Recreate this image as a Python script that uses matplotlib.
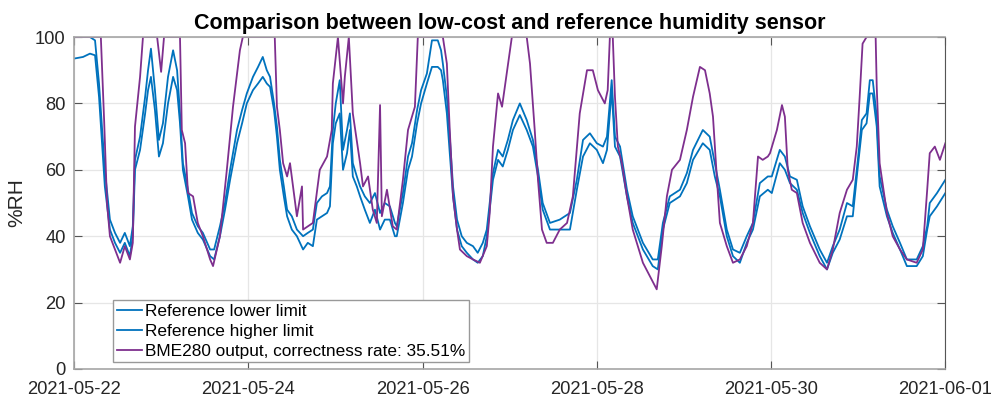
import numpy as np
import pandas as pd
import matplotlib
matplotlib.use("Agg")
import matplotlib.pyplot as plt
import matplotlib.dates as mdates

plt.rcParams['font.family'] = ['Liberation Sans', 'DejaVu Sans']

start = pd.Timestamp('2021-05-22')

# hours after 2021-05-22 00:00
ref_hours = [0, 2.5, 4.4, 5.8, 6.9, 8.5, 9.9, 11.3, 12.7, 14.0,
             15.4, 16.2, 16.8, 18.2, 19.6, 20.4, 21.2, 22.3, 23.4, 24.5,
             25.9, 27.3, 28.4, 29.2, 30.0, 31.4, 32.5, 34.1, 35.5, 37.5,
             38.6, 40.2, 41.6, 43.0, 44.9, 46.3, 47.6, 49.3, 50.7, 52.0,
             53.1, 54.0, 55.1, 55.9, 56.7, 57.8, 58.7, 60.0, 61.4, 63.1,
             64.4, 65.8, 66.9, 68.3, 69.7, 70.5, 71.3, 72.1, 73.2, 74.1,
             75.2, 76.0, 76.8, 77.9, 78.8, 80.1, 81.5, 82.9, 84.3, 85.6,
             87.0, 88.4, 88.9, 90.6, 92.0, 93.1, 94.5, 95.6, 97.2, 98.6,
             100.2, 101.1, 101.6, 102.7, 103.5, 104.4, 105.5, 106.8, 108.2, 109.9,
             111.2, 112.6, 113.7, 114.5, 115.4, 116.8, 118.1, 119.5, 120.9, 122.8,
             124.7, 126.4, 127.8, 129.1, 131.1, 133.8, 136.6, 138.5, 140.2, 142.1,
             144.0, 145.7, 146.8, 148.1, 149.0, 150.4, 152.3, 153.9, 156.7, 159.4,
             160.8, 162.2, 164.1, 166.9, 168.8, 170.5, 173.2, 175.1, 176.5, 177.9,
             179.8, 181.5, 183.4, 185.3, 187.0, 188.9, 191.1, 192.2, 194.4, 195.8,
             197.2, 199.1, 200.7, 202.7, 205.4, 207.4, 209.0, 210.9, 212.9, 214.5,
             215.9, 217.0, 218.3, 219.2, 220.0, 221.1, 221.9, 223.9, 225.5, 227.5,
             229.4, 232.1, 233.8, 235.0, 235.7, 237.7, 240]

ref_lower = [93.5, 94, 95, 94.5, 82, 55, 42, 38, 35, 38,
             34, 40, 60, 66, 77, 84, 88, 78, 64, 68,
             80, 88, 84, 74, 60, 52, 45, 41, 39, 34,
             33, 40, 48, 57, 68, 74, 80, 84, 86, 88,
             86, 85, 78, 70, 60, 52, 46, 42, 40, 36,
             38, 37, 45, 46, 47, 49, 68, 74, 77, 60,
             65, 72, 58, 55, 52, 48, 44, 48, 42, 45,
             45, 40, 40, 50, 60, 64, 74, 80, 86, 91,
             91, 90, 87, 77, 65, 52, 42, 37, 35, 33,
             32, 34, 40, 48, 57, 63, 61, 66, 72, 76.5,
             72, 67, 58, 48, 42, 42, 42, 54, 64, 68,
             66, 62, 66, 84, 67, 64, 52, 44, 36, 31,
             30, 42, 50, 52, 56, 63, 68, 66, 58, 52,
             40, 34, 32, 38, 42, 52, 54, 53, 62, 60,
             56, 54, 47, 41, 34, 30, 35, 39, 46, 46,
             61, 72, 74, 83, 83, 73, 55, 46, 41, 36,
             31, 31, 34, 42, 46, 49, 53]

ref_higher = [100, 100, 100, 99, 86, 60, 45, 41, 38, 41,
              37, 43, 63, 70, 82, 90, 96.5, 84, 69, 74,
              88, 96, 90, 77, 62, 54, 47, 43, 41, 36,
              36, 43, 50, 60, 72, 78, 83, 88, 91, 94,
              90, 88, 80, 73, 63, 55, 48, 46, 42, 40,
              41, 42, 50, 52, 53, 55, 72, 80, 87, 66,
              72, 77, 62, 58, 55, 52, 50, 53, 47, 50,
              49, 44, 43, 53, 64, 68, 78, 84, 89, 99,
              99, 96, 92, 82, 70, 55, 45, 40, 38, 37,
              35, 38, 42, 50, 59, 66, 64, 69, 75, 80,
              75, 69, 60, 50, 44, 45, 47, 57, 69, 71,
              68, 67, 70, 87, 70, 67, 54, 46, 38, 33,
              33, 44, 52, 54, 59, 66, 72, 70, 62, 54,
              42, 36, 35, 40, 44, 56, 58, 58, 66, 64,
              58, 57, 49, 43, 36, 32, 37, 42, 50, 49,
              63, 75, 77, 87, 87, 76, 58, 48, 43, 38,
              33, 33, 37, 43, 50, 53, 57]

bme_hours = [0, 7.4, 8.3, 9.1, 9.9, 11.3, 12.7, 14.0, 15.4, 16.2,
             16.8, 18.2, 19.0, 22.9, 24.0, 24.8, 29.2, 29.7, 30.6, 31.4,
             32.8, 34.1, 35.5, 37.5, 38.3, 40.2, 42.1, 43.8, 45.7, 46.5,
             55.3, 55.9, 56.7, 57.6, 58.7, 59.5, 61.4, 62.8, 63.1, 65.8,
             67.7, 69.7, 71.0, 71.3, 72.7, 74.1, 74.6, 75.7, 76.8, 78.8,
             79.6, 81.0, 82.3, 83.4, 84.3, 84.8, 86.2, 87.8, 88.9, 90.6,
             92.0, 93.9, 94.7, 101.6, 102.7, 103.5, 104.4, 105.5, 106.3, 108.2,
             109.9, 111.8, 113.7, 114.5, 115.4, 116.8, 117.9, 119.2, 120.6, 124.7,
             125.6, 126.9, 127.8, 128.9, 130.2, 131.9, 133.8, 135.8, 137.4, 139.3,
             141.3, 142.9, 144.3, 146.2, 147.0, 147.6, 148.4, 149.0, 149.8, 150.9,
             152.3, 153.9, 156.7, 158.6, 160.5, 161.9, 163.3, 164.7, 166.9, 168.8,
             170.5, 172.4, 173.8, 175.1, 176.0, 177.1, 177.9, 179.8, 181.5, 183.4,
             185.3, 187.0, 188.4, 189.7, 191.1, 191.7, 193.6, 195.0, 195.8, 196.6,
             197.7, 199.1, 200.7, 202.7, 205.4, 207.4, 209.0, 210.9, 212.9, 214.5,
             215.6, 216.4, 217.2, 218.3, 220.8, 221.1, 221.9, 223.9, 225.5, 227.5,
             229.4, 232.1, 233.8, 235.0, 235.7, 237.1, 238.5, 240]

bme_rh = [100, 100, 75, 50, 40, 36, 32, 37, 33, 38,
          73, 88, 100, 100, 89.5, 100, 100, 72, 68, 53,
          52, 44, 40, 33, 31, 40, 60, 79, 96, 100,
          100, 79, 72, 62, 58, 62, 46, 55, 42, 44,
          60, 64, 72, 86, 100, 80, 88, 100, 77, 62,
          55, 58, 48, 44, 79.5, 46, 54, 43, 42, 57,
          72, 79, 100, 100, 92, 72, 52, 42, 36, 34,
          33, 32, 37, 47, 67, 83, 79, 89, 100, 100,
          92, 72, 57, 42, 38, 38, 42, 44, 52, 77,
          90, 90, 84, 80, 84, 100, 100, 82, 67, 62,
          52, 42, 32, 28, 24, 37, 52, 60, 63, 72,
          82, 91, 90, 83, 76, 57, 44, 37, 32, 33,
          37, 44, 64, 63, 64, 65, 72, 79.5, 76, 60,
          54, 53, 44, 38, 32, 30, 36, 47, 54, 57,
          67, 82, 98, 100, 100, 85, 62, 47, 40, 36,
          33, 32, 36, 54, 65, 67, 63, 68]

rate = 35.51

t_ref = start + pd.to_timedelta(ref_hours, unit='h')
t_bme = start + pd.to_timedelta(bme_hours, unit='h')

blue = '#0072BD'
purple = '#7E2F8E'

fig = plt.figure(figsize=(9.97, 3.99), dpi=100)
ax = fig.add_axes([0.0742, 0.0752, 0.874, 0.832])

ax.plot(t_ref, ref_lower, color=blue, lw=1.3, label='Reference lower limit')
ax.plot(t_ref, ref_higher, color=blue, lw=1.3, label='Reference higher limit')
ax.plot(t_bme, bme_rh, color=purple, lw=1.3,
        label='BME280 output, correctness rate: %.2f%%' % rate)

ax.set_xlim(pd.Timestamp('2021-05-22'), pd.Timestamp('2021-06-01'))
ax.set_ylim(0, 100)
ax.set_yticks([0, 20, 40, 60, 80, 100])
ax.xaxis.set_major_locator(mdates.DayLocator(interval=2))
ax.xaxis.set_major_formatter(mdates.DateFormatter('%Y-%m-%d'))

ax.grid(True, color='#e6e6e6', lw=0.9)
ax.set_axisbelow(True)
ax.tick_params(direction='in', length=6, width=0.8, color='#555555',
               labelsize=13.2, labelcolor='#262626', top=True, right=True)
ax.tick_params(axis='x', pad=9)
ax.tick_params(axis='y', pad=6)
for s in ['top', 'left', 'bottom']:
    ax.spines[s].set_color('#a6a6a6')
    ax.spines[s].set_linewidth(1.2)
ax.spines['right'].set_color('#555555')

ax.set_ylabel('%RH', fontsize=15, color='#262626', labelpad=6)
ax.set_title('Comparison between low-cost and reference humidity sensor',
             fontsize=15.5, fontweight='bold', pad=6)

leg = ax.legend(loc='lower left', bbox_to_anchor=(0.045, 0.021), borderaxespad=0,
                fontsize=12.4, frameon=True, fancybox=False, framealpha=1,
                edgecolor='#999999', handlelength=1.5, handletextpad=0.15,
                labelspacing=0.28, borderpad=0.2)
leg.get_frame().set_linewidth(1.0)

fig.savefig('out.png', dpi=100)
